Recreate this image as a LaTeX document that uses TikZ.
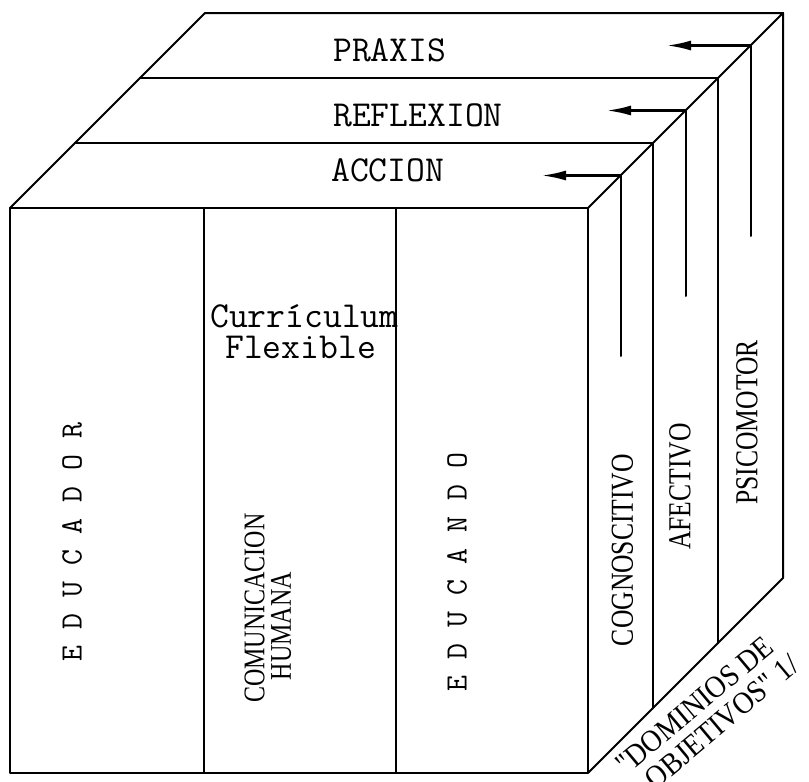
\documentclass[tikz,border=0pt]{standalone}
\usepackage{fontspec}
\newfontfamily\condfont[FakeStretch=0.8]{Liberation Serif}
\newfontfamily\slantfont[FakeStretch=0.9]{Liberation Serif}
\usetikzlibrary{arrows.meta}
\begin{document}
\begin{tikzpicture}[x=1pt,y=-1pt,
  edge/.style={line width=2pt, line cap=round, line join=round},
  tw/.style={font=\ttfamily\fontsize{36.6}{40}\selectfont, inner sep=0pt},
  vtw/.style={font=\ttfamily\fontsize{31}{34}\selectfont, inner sep=0pt, rotate=90},
  cond/.style={font=\condfont\fontsize{32}{36}\selectfont, inner sep=0pt, rotate=90},
  slant/.style={font=\slantfont\fontsize{31}{34}\selectfont, inner sep=0pt, rotate=40, anchor=west},
  pointer/.style={line width=2.2pt, -{Latex[length=24pt,width=10pt]}},
]
\useasboundingbox (0,0) rectangle (809,782);
% corners
\coordinate (F1) at (10,208);  \coordinate (F2) at (588,208);
\coordinate (F3) at (588,773); \coordinate (F4) at (10,773);
\coordinate (A1) at (75,143);  \coordinate (A2) at (653,143);
\coordinate (R1) at (140,78);  \coordinate (R2) at (718,78);
\coordinate (P1) at (205,13);  \coordinate (P2) at (783,13);
\coordinate (S2) at (653,708); \coordinate (S3) at (718,643);
\coordinate (S4) at (783,578);
\coordinate (D1t) at (204,208); \coordinate (D1b) at (204,773);
\coordinate (D2t) at (396,208); \coordinate (D2b) at (396,773);
% front face
\draw[edge] (F1) rectangle (F3);
\draw[edge] (D1t) -- (D1b);
\draw[edge] (D2t) -- (D2b);
% top face
\draw[edge] (F1) -- (P1) -- (P2) -- (F2);
\draw[edge] (A1) -- (A2);
\draw[edge] (R1) -- (R2);
% side face
\draw[edge] (F3) -- (S4) -- (P2);
\draw[edge] (A2) -- (S2);
\draw[edge] (R2) -- (S3);
% arrows
\coordinate (ma) at (620.5,175.5); \coordinate (maE) at (620.5,356); \coordinate (maT) at (542,175.5);
\coordinate (mr) at (685.5,110.5); \coordinate (mrE) at (685.5,296); \coordinate (mrT) at (607,110.5);
\coordinate (mp) at (750.5,45.5);  \coordinate (mpE) at (750.5,236); \coordinate (mpT) at (667,45.5);
\draw[edge] (ma) -- (maE);
\draw[edge] (mr) -- (mrE);
\draw[edge] (mp) -- (mpE);
\draw[pointer] (ma) -- (maT);
\draw[pointer] (mr) -- (mrT);
\draw[pointer] (mp) -- (mpT);
% top labels
\node[tw, anchor=west] (praxis) at (333,50) {PRAXIS};
\node[tw, anchor=west] (reflexion) at (333,115) {REFLEXION};
\node[tw, anchor=west] (accion) at (331,170) {ACCION};
\node[tw, anchor=base west] (curr) at (210,327) {Currículum};
\node[tw, anchor=base west] (flex) at (225,358) {Flexible};
% front vertical labels
\node[vtw] (educador) at (72,542) {E D U C A D O R};
\node[vtw] (educando) at (457,572) {E D U C A N D O};
\node[cond, font=\condfont\fontsize{30}{33}\selectfont] (comun) at (254.5,608) {COMUNICACION};
\node[cond, font=\condfont\fontsize{30}{33}\selectfont] (humana) at (281,626) {HUMANA};
% side labels
\node[cond] (cog) at (622.5,550) {COGNOSCITIVO};
\node[cond] (afe) at (680,486.5) {AFECTIVO};
\node[cond] (psi) at (747,422.5) {PSICOMOTOR};
% slanted caption
\node[slant] (dom1) at (620,768) {"DOMINIOS DE};
\node[slant] (dom2) at (649,783) {OBJETIVOS"\hspace{8pt}1/};
\end{tikzpicture}
\end{document}
